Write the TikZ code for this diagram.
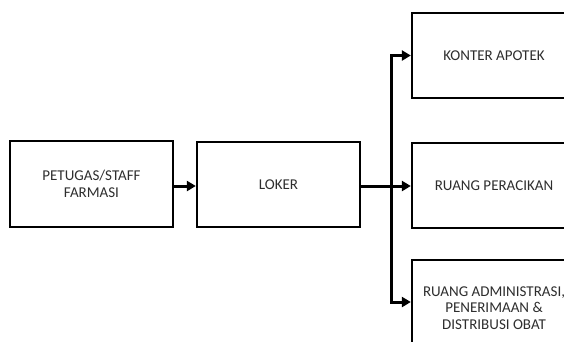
\documentclass[tikz,border=0pt]{standalone}
\usepackage{fontspec}
\setmainfont{Carlito}
\usetikzlibrary{arrows.meta}

\begin{document}
\begin{tikzpicture}[
						x=1pt, y=-1pt,
						box/.style={draw=black, line width=2.3pt, fill=white, align=center,
							inner sep=0pt, text=black!82, font=\fontsize{15}{16.5}\selectfont},
						flow/.style={line width=3pt, -{Triangle[length=9pt,width=10pt]}},
						line cap=butt,
						line join=miter
						]
						
						% Frame
						\useasboundingbox (0,0) rectangle (564,341);
						\clip (0,0) rectangle (564,341);
						
						% Boxes
						\node[box, minimum width=163pt, minimum height=86pt] (petugas) at (91.5,184) {PETUGAS/STAFF\\FARMASI};
						\node[box, minimum width=163pt, minimum height=85pt] (loker) at (278.5,184.5) {LOKER};
						\node[box, minimum width=164pt, minimum height=85pt] (konter) at (494,55.5) {KONTER APOTEK};
						\node[box, minimum width=164pt, minimum height=85pt] (racik) at (494,185.5) {RUANG PERACIKAN};
						\node[box, minimum width=164pt, minimum height=96pt] (admin) at (494,308) {RUANG ADMINISTRASI,\\PENERIMAAN \&\\DISTRIBUSI OBAT};
						
						% Split point
						\coordinate (split) at (391,186);
						
						% Arrows
						\draw[flow] (petugas.east |- 0,186) -- (loker.west |- 0,186);
						\draw[flow] (loker.east |- split) -- (racik.west |- split);
						\draw[flow] (split) |- (konter.west);
						\draw[flow] (split) |- (admin.west |- 0,302);
						
					\end{tikzpicture}
\end{document}
